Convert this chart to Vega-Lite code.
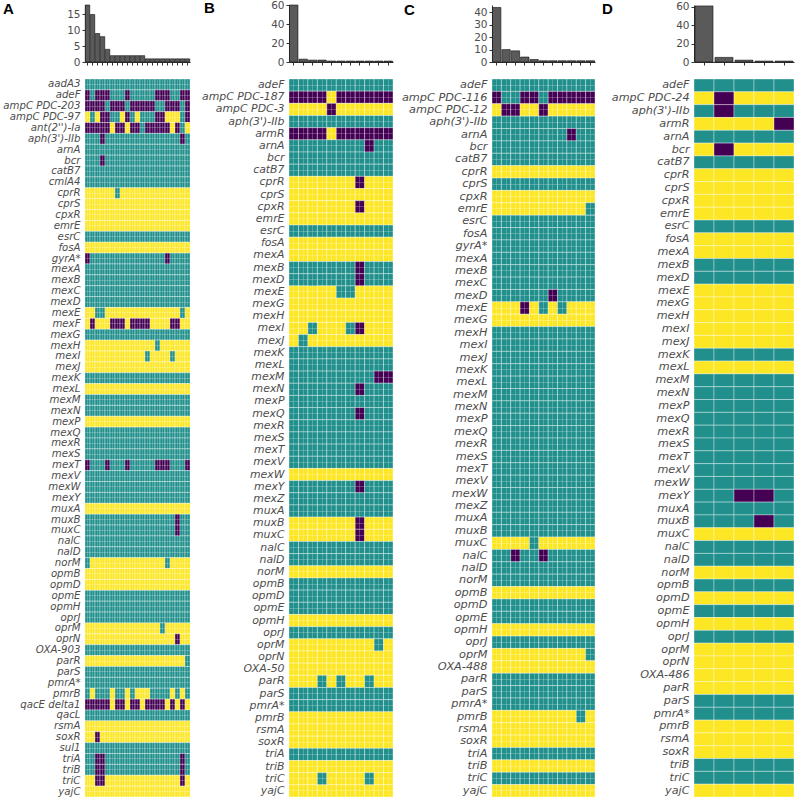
{
"$schema": "https://vega.github.io/schema/vega-lite/v6.json",
"padding": {"left": 2, "top": 0, "right": 0, "bottom": 0},
"background": "white",
"config": {"view": {"stroke": null}, "font": "DejaVu Sans", "axis": {"labelColor": "#4d4d4d", "labelFont": "DejaVu Sans", "domainColor": "#333333", "tickColor": "#333333", "grid": false, "title": null}},
"datasets": {
"bars": [
{"p":"A","c":1,"n":18},{"p":"A","c":2,"n":15},{"p":"A","c":3,"n":9},{"p":"A","c":4,"n":8},{"p":"A","c":5,"n":4},{"p":"A","c":6,"n":2},{"p":"A","c":7,"n":2},{"p":"A","c":8,"n":2},{"p":"A","c":9,"n":2},{"p":"A","c":10,"n":2},{"p":"A","c":11,"n":2},{"p":"A","c":12,"n":2},{"p":"A","c":13,"n":1},{"p":"A","c":14,"n":1},{"p":"A","c":15,"n":1},{"p":"A","c":16,"n":1},{"p":"A","c":17,"n":1},{"p":"A","c":18,"n":1},{"p":"A","c":19,"n":1},{"p":"A","c":20,"n":1},{"p":"A","c":21,"n":1},
{"p":"B","c":1,"n":60},{"p":"B","c":2,"n":3},{"p":"B","c":3,"n":2},{"p":"B","c":4,"n":2},{"p":"B","c":5,"n":1},{"p":"B","c":6,"n":1},{"p":"B","c":7,"n":1},{"p":"B","c":8,"n":1},{"p":"B","c":9,"n":1},{"p":"B","c":10,"n":1},{"p":"B","c":11,"n":1},
{"p":"C","c":1,"n":44},{"p":"C","c":2,"n":10},{"p":"C","c":3,"n":9},{"p":"C","c":4,"n":4},{"p":"C","c":5,"n":2},{"p":"C","c":6,"n":1},{"p":"C","c":7,"n":1},{"p":"C","c":8,"n":1},{"p":"C","c":9,"n":1},{"p":"C","c":10,"n":1},{"p":"C","c":11,"n":1},
{"p":"D","c":1,"n":61},{"p":"D","c":2,"n":5},{"p":"D","c":3,"n":2},{"p":"D","c":4,"n":1},{"p":"D","c":5,"n":1}
],
"heat": [
{"p":"A","g":"aadA3","v":[1,1,1,1,1,1,1,1,1,1,1,1,1,1,1,1,1,1,1,1,1]},
{"p":"A","g":"adeF","v":[0,1,0,0,0,1,1,1,0,1,1,1,1,1,0,0,0,1,1,0,0]},
{"p":"A","g":"ampC PDC-203","v":[0,0,0,0,1,0,0,0,1,0,0,0,0,0,1,1,0,0,0,1,0]},
{"p":"A","g":"ampC PDC-97","v":[2,1,2,0,0,1,1,2,0,1,2,1,1,1,0,0,2,2,2,1,0]},
{"p":"A","g":"ant(2'')-Ia","v":[0,0,0,0,0,2,0,0,2,0,0,1,0,0,0,0,0,2,0,1,2]},
{"p":"A","g":"aph(3')-IIb","v":[1,1,1,0,1,1,1,1,1,1,1,1,1,1,1,1,1,1,1,0,1]},
{"p":"A","g":"arnA","v":[1,1,1,1,1,1,1,1,1,1,1,1,1,1,1,1,1,1,1,1,1]},
{"p":"A","g":"bcr","v":[1,1,1,0,1,1,1,1,1,1,1,1,1,1,1,1,1,1,1,1,1]},
{"p":"A","g":"catB7","v":[1,1,1,1,1,1,1,1,1,1,1,1,1,1,1,1,1,1,1,1,1]},
{"p":"A","g":"cmlA4","v":[1,1,1,1,1,1,1,1,1,1,1,1,1,1,1,1,1,1,1,1,1]},
{"p":"A","g":"cprR","v":[2,2,2,2,2,2,1,2,2,2,2,2,2,2,2,2,2,2,2,2,2]},
{"p":"A","g":"cprS","v":[2,2,2,2,2,2,2,2,2,2,2,2,2,2,2,2,2,2,2,2,2]},
{"p":"A","g":"cpxR","v":[2,2,2,2,2,2,2,2,2,2,2,2,2,2,2,2,2,2,2,2,2]},
{"p":"A","g":"emrE","v":[2,2,2,2,2,2,2,2,2,2,2,2,2,2,2,2,2,2,2,2,2]},
{"p":"A","g":"esrC","v":[1,1,1,1,1,1,1,1,1,1,1,1,1,1,1,1,1,1,1,1,1]},
{"p":"A","g":"fosA","v":[2,2,2,2,2,2,2,2,2,2,2,2,2,2,2,2,2,2,2,2,2]},
{"p":"A","g":"gyrA*","v":[0,1,1,1,1,1,1,1,1,1,1,1,1,1,1,1,0,1,1,1,1]},
{"p":"A","g":"mexA","v":[1,1,1,1,1,1,1,1,1,1,1,1,1,1,1,1,1,1,1,1,1]},
{"p":"A","g":"mexB","v":[1,1,1,1,1,1,1,1,1,1,1,1,1,1,1,1,1,1,1,1,1]},
{"p":"A","g":"mexC","v":[1,1,1,1,1,1,1,1,1,1,1,1,1,1,1,1,1,1,1,1,1]},
{"p":"A","g":"mexD","v":[1,1,1,1,1,1,1,1,1,1,1,1,1,1,1,1,1,1,1,1,1]},
{"p":"A","g":"mexE","v":[2,2,1,1,2,2,2,2,2,2,2,2,2,2,2,2,2,2,2,1,2]},
{"p":"A","g":"mexF","v":[2,0,2,2,2,0,0,0,2,0,0,0,0,2,2,2,2,0,0,2,2]},
{"p":"A","g":"mexG","v":[1,1,1,1,1,1,1,1,1,1,1,1,1,1,1,1,1,1,1,1,1]},
{"p":"A","g":"mexH","v":[2,2,2,2,2,2,2,2,2,2,2,2,2,2,1,2,2,2,2,2,2]},
{"p":"A","g":"mexI","v":[2,2,2,2,2,2,2,2,2,2,2,2,1,2,2,2,2,1,2,2,2]},
{"p":"A","g":"mexJ","v":[2,2,2,2,2,2,2,2,2,2,2,2,2,2,2,2,2,2,2,2,2]},
{"p":"A","g":"mexK","v":[1,1,1,1,1,1,1,1,1,1,1,1,1,1,1,1,1,1,1,1,1]},
{"p":"A","g":"mexL","v":[2,2,2,2,2,2,2,2,2,2,2,2,2,2,2,2,2,2,2,2,2]},
{"p":"A","g":"mexM","v":[1,1,1,1,1,1,1,1,1,1,1,1,1,1,1,1,1,1,1,1,1]},
{"p":"A","g":"mexN","v":[1,1,1,1,1,1,1,1,1,1,1,1,1,1,1,1,1,1,1,1,1]},
{"p":"A","g":"mexP","v":[2,2,2,2,2,2,2,2,2,2,2,2,2,2,2,2,2,2,2,2,2]},
{"p":"A","g":"mexQ","v":[1,1,1,1,1,1,1,1,1,1,1,1,1,1,1,1,1,1,1,1,1]},
{"p":"A","g":"mexR","v":[1,1,1,1,1,1,1,1,1,1,1,1,1,1,1,1,1,1,1,1,1]},
{"p":"A","g":"mexS","v":[1,1,1,1,1,1,1,1,1,1,1,1,1,1,1,1,1,1,1,1,1]},
{"p":"A","g":"mexT","v":[0,1,1,1,0,1,1,1,0,1,1,1,1,1,0,0,0,1,1,1,0]},
{"p":"A","g":"mexV","v":[1,1,1,1,1,1,1,1,1,1,1,1,1,1,1,1,1,1,1,1,1]},
{"p":"A","g":"mexW","v":[1,1,1,1,1,1,1,1,1,1,1,1,1,1,1,1,1,1,1,1,1]},
{"p":"A","g":"mexY","v":[1,1,1,1,1,1,1,1,1,1,1,1,1,1,1,1,1,1,1,1,1]},
{"p":"A","g":"muxA","v":[2,2,2,2,2,2,2,2,2,2,2,2,2,2,2,2,2,2,2,2,2]},
{"p":"A","g":"muxB","v":[1,1,1,1,1,1,1,1,1,1,1,1,1,1,1,1,1,1,0,1,1]},
{"p":"A","g":"muxC","v":[1,1,1,1,1,1,1,1,1,1,1,1,1,1,1,1,1,1,0,1,1]},
{"p":"A","g":"nalC","v":[1,1,1,1,1,1,1,1,1,1,1,1,1,1,1,1,1,1,1,1,1]},
{"p":"A","g":"nalD","v":[1,1,1,1,1,1,1,1,1,1,1,1,1,1,1,1,1,1,1,1,1]},
{"p":"A","g":"norM","v":[1,2,2,2,2,2,2,2,2,2,2,2,2,2,2,2,1,2,2,2,2]},
{"p":"A","g":"opmB","v":[2,2,2,2,2,2,2,2,2,2,2,2,2,2,2,2,2,2,2,2,2]},
{"p":"A","g":"opmD","v":[2,2,2,2,2,2,2,2,2,2,2,2,2,2,2,2,2,2,2,2,2]},
{"p":"A","g":"opmE","v":[1,1,1,1,1,1,1,1,1,1,1,1,1,1,1,1,1,1,1,1,1]},
{"p":"A","g":"opmH","v":[1,1,1,1,1,1,1,1,1,1,1,1,1,1,1,1,1,1,1,1,1]},
{"p":"A","g":"oprJ","v":[1,1,1,1,1,1,1,1,1,1,1,1,1,1,1,1,1,1,1,1,1]},
{"p":"A","g":"oprM","v":[2,2,2,2,2,2,2,2,2,2,2,2,2,2,2,1,2,2,2,2,2]},
{"p":"A","g":"oprN","v":[2,2,2,2,2,2,2,2,2,2,2,2,2,2,2,2,2,2,0,2,2]},
{"p":"A","g":"OXA-903","v":[1,1,1,1,1,1,1,1,1,1,1,1,1,1,1,1,1,1,1,1,1]},
{"p":"A","g":"parR","v":[2,2,2,2,2,2,2,2,2,2,2,2,2,2,2,2,2,2,2,2,1]},
{"p":"A","g":"parS","v":[1,1,1,1,1,1,1,1,1,1,1,1,1,1,1,1,1,1,1,1,1]},
{"p":"A","g":"pmrA*","v":[1,1,1,1,1,1,1,1,1,1,1,1,1,1,1,1,1,1,1,1,1]},
{"p":"A","g":"pmrB","v":[1,2,1,1,1,2,1,1,2,1,2,2,2,1,1,1,1,2,1,2,1]},
{"p":"A","g":"qacE delta1","v":[0,0,0,0,0,2,0,0,2,0,0,2,0,0,0,0,2,0,2,0,2]},
{"p":"A","g":"qacL","v":[1,1,1,1,1,1,1,1,1,1,1,1,1,1,1,1,1,1,1,1,1]},
{"p":"A","g":"rsmA","v":[2,2,2,2,2,2,2,2,2,2,2,2,2,2,2,2,2,2,2,2,2]},
{"p":"A","g":"soxR","v":[2,2,0,2,2,2,2,2,2,2,2,2,2,2,2,2,2,2,2,2,2]},
{"p":"A","g":"sul1","v":[1,1,1,1,1,1,1,1,1,1,1,1,1,1,1,1,1,1,1,1,1]},
{"p":"A","g":"triA","v":[1,1,0,0,1,1,1,1,1,1,1,1,1,1,1,1,1,1,1,0,1]},
{"p":"A","g":"triB","v":[1,1,0,0,1,1,1,1,1,1,1,1,1,1,1,1,1,1,1,0,1]},
{"p":"A","g":"triC","v":[2,2,0,0,2,2,2,2,2,2,2,2,2,2,2,2,2,2,2,0,2]},
{"p":"A","g":"yajC","v":[2,2,2,2,2,2,2,2,2,2,2,2,2,2,2,2,2,2,2,2,2]},
{"p":"B","g":"adeF","v":[1,1,1,1,1,1,1,1,1,1,1]},
{"p":"B","g":"ampC PDC-187","v":[0,0,0,0,2,0,0,0,0,0,0]},
{"p":"B","g":"ampC PDC-3","v":[2,2,2,2,0,2,2,2,2,2,2]},
{"p":"B","g":"aph(3')-IIb","v":[1,1,1,1,1,1,1,1,1,1,1]},
{"p":"B","g":"armR","v":[0,0,0,0,2,0,0,0,0,0,0]},
{"p":"B","g":"arnA","v":[1,1,1,1,1,1,1,1,0,1,1]},
{"p":"B","g":"bcr","v":[1,1,1,1,1,1,1,1,1,1,1]},
{"p":"B","g":"catB7","v":[1,1,1,1,1,1,1,1,1,1,1]},
{"p":"B","g":"cprR","v":[2,2,2,2,2,2,2,0,2,2,2]},
{"p":"B","g":"cprS","v":[2,2,2,2,2,2,2,2,2,2,2]},
{"p":"B","g":"cpxR","v":[2,2,2,2,2,2,2,0,2,2,2]},
{"p":"B","g":"emrE","v":[2,2,2,2,2,2,2,2,2,2,2]},
{"p":"B","g":"esrC","v":[1,1,1,1,1,1,1,1,1,1,1]},
{"p":"B","g":"fosA","v":[2,2,2,2,2,2,2,2,2,2,2]},
{"p":"B","g":"mexA","v":[2,2,2,2,2,2,2,2,2,2,2]},
{"p":"B","g":"mexB","v":[1,1,1,1,1,1,1,0,1,1,1]},
{"p":"B","g":"mexD","v":[1,1,1,1,1,1,1,0,1,1,1]},
{"p":"B","g":"mexE","v":[2,2,2,2,2,1,1,2,2,2,2]},
{"p":"B","g":"mexG","v":[2,2,2,2,2,2,2,2,2,2,2]},
{"p":"B","g":"mexH","v":[2,2,2,2,2,2,2,2,2,2,2]},
{"p":"B","g":"mexI","v":[2,2,1,2,2,2,1,0,2,2,2]},
{"p":"B","g":"mexJ","v":[2,1,2,2,2,2,2,2,2,2,2]},
{"p":"B","g":"mexK","v":[1,1,1,1,1,1,1,1,1,1,1]},
{"p":"B","g":"mexL","v":[1,1,1,1,1,1,1,1,1,1,1]},
{"p":"B","g":"mexM","v":[1,1,1,1,1,1,1,1,1,0,0]},
{"p":"B","g":"mexN","v":[1,1,1,1,1,1,1,0,1,1,1]},
{"p":"B","g":"mexP","v":[1,1,1,1,1,1,1,1,1,1,1]},
{"p":"B","g":"mexQ","v":[1,1,1,1,1,1,1,0,1,1,1]},
{"p":"B","g":"mexR","v":[1,1,1,1,1,1,1,1,1,1,1]},
{"p":"B","g":"mexS","v":[1,1,1,1,1,1,1,1,1,1,1]},
{"p":"B","g":"mexT","v":[1,1,1,1,1,1,1,1,1,1,1]},
{"p":"B","g":"mexV","v":[1,1,1,1,1,1,1,1,1,1,1]},
{"p":"B","g":"mexW","v":[2,2,2,2,2,2,2,2,2,2,2]},
{"p":"B","g":"mexY","v":[1,1,1,1,1,1,1,0,1,1,1]},
{"p":"B","g":"mexZ","v":[1,1,1,1,1,1,1,1,1,1,1]},
{"p":"B","g":"muxA","v":[1,1,1,1,1,1,1,1,1,1,1]},
{"p":"B","g":"muxB","v":[2,2,2,2,2,2,2,0,2,2,2]},
{"p":"B","g":"muxC","v":[2,2,2,2,2,2,2,0,2,2,2]},
{"p":"B","g":"nalC","v":[1,1,1,1,1,1,1,1,1,1,1]},
{"p":"B","g":"nalD","v":[1,1,1,1,1,1,1,1,1,1,1]},
{"p":"B","g":"norM","v":[2,2,2,2,2,2,2,2,2,2,2]},
{"p":"B","g":"opmB","v":[1,1,1,1,1,1,1,1,1,1,1]},
{"p":"B","g":"opmD","v":[1,1,1,1,1,1,1,1,1,1,1]},
{"p":"B","g":"opmE","v":[1,1,1,1,1,1,1,1,1,1,1]},
{"p":"B","g":"opmH","v":[2,2,2,2,2,2,2,2,2,2,2]},
{"p":"B","g":"oprJ","v":[1,1,1,1,1,1,1,1,1,1,1]},
{"p":"B","g":"oprM","v":[2,2,2,2,2,2,2,2,2,1,2]},
{"p":"B","g":"oprN","v":[2,2,2,2,2,2,2,2,2,2,2]},
{"p":"B","g":"OXA-50","v":[2,2,2,2,2,2,2,2,2,2,2]},
{"p":"B","g":"parR","v":[2,2,2,1,2,1,2,2,1,2,2]},
{"p":"B","g":"parS","v":[1,1,1,1,1,1,1,1,1,1,1]},
{"p":"B","g":"pmrA*","v":[1,1,1,1,1,1,1,1,1,1,1]},
{"p":"B","g":"pmrB","v":[2,2,2,2,2,2,2,2,2,2,2]},
{"p":"B","g":"rsmA","v":[2,2,2,2,2,2,2,2,2,2,2]},
{"p":"B","g":"soxR","v":[2,2,2,2,2,2,2,2,2,2,2]},
{"p":"B","g":"triA","v":[1,1,1,1,1,1,1,1,1,1,1]},
{"p":"B","g":"triB","v":[2,2,2,2,2,2,2,2,2,2,2]},
{"p":"B","g":"triC","v":[2,2,2,1,2,2,2,2,1,2,2]},
{"p":"B","g":"yajC","v":[2,2,2,2,2,2,2,2,2,2,2]},
{"p":"C","g":"adeF","v":[1,1,1,1,1,1,1,1,1,1,1]},
{"p":"C","g":"ampC PDC-116","v":[0,1,1,0,0,1,0,0,0,0,0]},
{"p":"C","g":"ampC PDC-12","v":[2,0,0,2,2,0,2,2,2,2,2]},
{"p":"C","g":"aph(3')-IIb","v":[1,1,1,1,1,1,1,1,1,1,1]},
{"p":"C","g":"arnA","v":[1,1,1,1,1,1,1,1,0,1,1]},
{"p":"C","g":"bcr","v":[1,1,1,1,1,1,1,1,1,1,1]},
{"p":"C","g":"catB7","v":[1,1,1,1,1,1,1,1,1,1,1]},
{"p":"C","g":"cprR","v":[2,2,2,2,2,2,2,2,2,2,2]},
{"p":"C","g":"cprS","v":[1,1,1,1,1,1,1,1,1,1,1]},
{"p":"C","g":"cpxR","v":[2,2,2,2,2,2,2,2,2,2,2]},
{"p":"C","g":"emrE","v":[2,2,2,2,2,2,2,2,2,2,1]},
{"p":"C","g":"esrC","v":[1,1,1,1,1,1,1,1,1,1,1]},
{"p":"C","g":"fosA","v":[1,1,1,1,1,1,1,1,1,1,1]},
{"p":"C","g":"gyrA*","v":[1,1,1,1,1,1,1,1,1,1,1]},
{"p":"C","g":"mexA","v":[1,1,1,1,1,1,1,1,1,1,1]},
{"p":"C","g":"mexB","v":[1,1,1,1,1,1,1,1,1,1,1]},
{"p":"C","g":"mexC","v":[1,1,1,1,1,1,1,1,1,1,1]},
{"p":"C","g":"mexD","v":[1,1,1,1,1,1,0,1,1,1,1]},
{"p":"C","g":"mexE","v":[2,2,2,0,2,1,2,1,2,2,2]},
{"p":"C","g":"mexG","v":[2,2,2,2,2,2,2,2,2,2,2]},
{"p":"C","g":"mexH","v":[1,1,1,1,1,1,1,1,1,1,1]},
{"p":"C","g":"mexI","v":[1,1,1,1,1,1,1,1,1,1,1]},
{"p":"C","g":"mexJ","v":[1,1,1,1,1,1,1,1,1,1,1]},
{"p":"C","g":"mexK","v":[1,1,1,1,1,1,1,1,1,1,1]},
{"p":"C","g":"mexL","v":[1,1,1,1,1,1,1,1,1,1,1]},
{"p":"C","g":"mexM","v":[1,1,1,1,1,1,1,1,1,1,1]},
{"p":"C","g":"mexN","v":[1,1,1,1,1,1,1,1,1,1,1]},
{"p":"C","g":"mexP","v":[1,1,1,1,1,1,1,1,1,1,1]},
{"p":"C","g":"mexQ","v":[1,1,1,1,1,1,1,1,1,1,1]},
{"p":"C","g":"mexR","v":[1,1,1,1,1,1,1,1,1,1,1]},
{"p":"C","g":"mexS","v":[1,1,1,1,1,1,1,1,1,1,1]},
{"p":"C","g":"mexT","v":[1,1,1,1,1,1,1,1,1,1,1]},
{"p":"C","g":"mexV","v":[1,1,1,1,1,1,1,1,1,1,1]},
{"p":"C","g":"mexW","v":[1,1,1,1,1,1,1,1,1,1,1]},
{"p":"C","g":"mexZ","v":[1,1,1,1,1,1,1,1,1,1,1]},
{"p":"C","g":"muxA","v":[1,1,1,1,1,1,1,1,1,1,1]},
{"p":"C","g":"muxB","v":[1,1,1,1,1,1,1,1,1,1,1]},
{"p":"C","g":"muxC","v":[2,2,2,2,1,2,2,2,2,2,2]},
{"p":"C","g":"nalC","v":[1,1,0,1,1,0,1,1,1,1,1]},
{"p":"C","g":"nalD","v":[1,1,1,1,1,1,1,1,1,1,1]},
{"p":"C","g":"norM","v":[1,1,1,1,1,1,1,1,1,1,1]},
{"p":"C","g":"opmB","v":[2,2,2,2,2,2,2,2,2,2,2]},
{"p":"C","g":"opmD","v":[1,1,1,1,1,1,1,1,1,1,1]},
{"p":"C","g":"opmE","v":[1,1,1,1,1,1,1,1,1,1,1]},
{"p":"C","g":"opmH","v":[2,2,2,2,2,2,2,2,2,2,2]},
{"p":"C","g":"oprJ","v":[1,1,1,1,1,1,1,1,1,1,1]},
{"p":"C","g":"oprM","v":[2,2,2,2,2,2,2,2,2,2,1]},
{"p":"C","g":"OXA-488","v":[2,2,2,2,2,2,2,2,2,2,2]},
{"p":"C","g":"parR","v":[1,1,1,1,1,1,1,1,1,1,1]},
{"p":"C","g":"parS","v":[1,1,1,1,1,1,1,1,1,1,1]},
{"p":"C","g":"pmrA*","v":[1,1,1,1,1,1,1,1,1,1,1]},
{"p":"C","g":"pmrB","v":[2,2,2,2,2,2,2,2,2,1,2]},
{"p":"C","g":"rsmA","v":[2,2,2,2,2,2,2,2,2,2,2]},
{"p":"C","g":"soxR","v":[2,2,2,2,2,2,2,2,2,2,2]},
{"p":"C","g":"triA","v":[1,1,1,1,1,1,1,1,1,1,1]},
{"p":"C","g":"triB","v":[2,2,2,2,2,2,2,2,2,2,2]},
{"p":"C","g":"triC","v":[1,1,1,1,1,1,1,1,1,1,1]},
{"p":"C","g":"yajC","v":[2,2,2,2,2,2,2,2,2,2,2]},
{"p":"D","g":"adeF","v":[1,1,1,1,1]},
{"p":"D","g":"ampC PDC-24","v":[2,0,2,2,2]},
{"p":"D","g":"aph(3')-IIb","v":[1,0,1,1,1]},
{"p":"D","g":"armR","v":[2,2,2,2,0]},
{"p":"D","g":"arnA","v":[1,1,1,1,1]},
{"p":"D","g":"bcr","v":[2,0,2,2,2]},
{"p":"D","g":"catB7","v":[1,1,1,1,1]},
{"p":"D","g":"cprR","v":[2,2,2,2,2]},
{"p":"D","g":"cprS","v":[2,2,2,2,2]},
{"p":"D","g":"cpxR","v":[2,2,2,2,2]},
{"p":"D","g":"emrE","v":[2,2,2,2,2]},
{"p":"D","g":"esrC","v":[1,1,1,1,1]},
{"p":"D","g":"fosA","v":[2,2,2,2,2]},
{"p":"D","g":"mexA","v":[2,2,2,2,2]},
{"p":"D","g":"mexB","v":[1,1,1,1,1]},
{"p":"D","g":"mexD","v":[1,1,1,1,1]},
{"p":"D","g":"mexE","v":[2,2,2,2,2]},
{"p":"D","g":"mexG","v":[2,2,2,2,2]},
{"p":"D","g":"mexH","v":[2,2,2,2,2]},
{"p":"D","g":"mexI","v":[2,2,2,2,2]},
{"p":"D","g":"mexJ","v":[2,2,2,2,2]},
{"p":"D","g":"mexK","v":[1,1,1,1,1]},
{"p":"D","g":"mexL","v":[2,2,2,2,2]},
{"p":"D","g":"mexM","v":[1,1,1,1,1]},
{"p":"D","g":"mexN","v":[1,1,1,1,1]},
{"p":"D","g":"mexP","v":[1,1,1,1,1]},
{"p":"D","g":"mexQ","v":[1,1,1,1,1]},
{"p":"D","g":"mexR","v":[1,1,1,1,1]},
{"p":"D","g":"mexS","v":[1,1,1,1,1]},
{"p":"D","g":"mexT","v":[1,1,1,1,1]},
{"p":"D","g":"mexV","v":[1,1,1,1,1]},
{"p":"D","g":"mexW","v":[1,1,1,1,1]},
{"p":"D","g":"mexY","v":[1,1,0,0,1]},
{"p":"D","g":"muxA","v":[1,1,1,1,1]},
{"p":"D","g":"muxB","v":[1,1,1,0,1]},
{"p":"D","g":"muxC","v":[2,2,2,2,2]},
{"p":"D","g":"nalC","v":[1,1,1,1,1]},
{"p":"D","g":"nalD","v":[1,1,1,1,1]},
{"p":"D","g":"norM","v":[2,2,2,2,2]},
{"p":"D","g":"opmB","v":[1,1,1,1,1]},
{"p":"D","g":"opmD","v":[2,2,2,2,2]},
{"p":"D","g":"opmE","v":[1,1,1,1,1]},
{"p":"D","g":"opmH","v":[2,2,2,2,2]},
{"p":"D","g":"oprJ","v":[1,1,1,1,1]},
{"p":"D","g":"oprM","v":[2,2,2,2,2]},
{"p":"D","g":"oprN","v":[2,2,2,2,2]},
{"p":"D","g":"OXA-486","v":[2,2,2,2,2]},
{"p":"D","g":"parR","v":[2,2,2,2,2]},
{"p":"D","g":"parS","v":[1,1,1,1,1]},
{"p":"D","g":"pmrA*","v":[1,1,1,1,1]},
{"p":"D","g":"pmrB","v":[2,2,2,2,2]},
{"p":"D","g":"rsmA","v":[2,2,2,2,2]},
{"p":"D","g":"soxR","v":[2,2,2,2,2]},
{"p":"D","g":"triB","v":[1,1,1,1,1]},
{"p":"D","g":"triC","v":[1,1,1,1,1]},
{"p":"D","g":"yajC","v":[2,2,2,2,2]}
]
},
"columns": 4,
"bounds": "flush",
"align": "each",
"spacing": {"row": 17, "column": 99},
"concat": [
{"width": 105, "height": 57, "data": {"name": "bars"}, "transform": [{"filter": "datum.p === 'A'"}],
 "title": {"text": "A", "anchor": "start", "frame": "group", "dx": -82, "offset": -12, "baseline": "top", "fontSize": 15, "fontWeight": "bold", "font": "Liberation Sans", "color": "#000000"},
 "mark": {"type": "bar", "fill": "#5a5a5a", "stroke": "#111111", "strokeWidth": 0.6, "width": {"band": 0.9}},
 "encoding": {"x": {"field": "c", "type": "ordinal", "scale": {"paddingInner": 0, "paddingOuter": 0}, "axis": {"labels": false, "tickSize": 3, "bandPosition": 0.5}},
  "y": {"field": "n", "type": "quantitative", "scale": {"domain": [0, 18], "nice": false}, "axis": {"values": [0, 5, 10, 15], "tickSize": 3, "labelFontSize": 10.5, "labelPadding": 2}}}},
{"width": 104, "height": 57, "data": {"name": "bars"}, "transform": [{"filter": "datum.p === 'B'"}],
 "title": {"text": "B", "anchor": "start", "frame": "group", "dx": -85, "offset": -16, "baseline": "top", "fontSize": 15, "fontWeight": "bold", "font": "Liberation Sans", "color": "#000000"},
 "mark": {"type": "bar", "fill": "#5a5a5a", "stroke": "#111111", "strokeWidth": 0.6, "width": {"band": 0.9}},
 "encoding": {"x": {"field": "c", "type": "ordinal", "scale": {"paddingInner": 0, "paddingOuter": 0}, "axis": {"labels": false, "tickSize": 3, "bandPosition": 0.5}},
  "y": {"field": "n", "type": "quantitative", "scale": {"domain": [0, 60], "nice": false}, "axis": {"values": [0, 20, 40, 60], "tickSize": 3, "labelFontSize": 10.5, "labelPadding": 2}}}},
{"width": 103, "height": 57, "data": {"name": "bars"}, "transform": [{"filter": "datum.p === 'C'"}],
 "title": {"text": "C", "anchor": "start", "frame": "group", "dx": -88, "offset": -13, "baseline": "top", "fontSize": 15, "fontWeight": "bold", "font": "Liberation Sans", "color": "#000000"},
 "mark": {"type": "bar", "fill": "#5a5a5a", "stroke": "#111111", "strokeWidth": 0.6, "width": {"band": 0.9}},
 "encoding": {"x": {"field": "c", "type": "ordinal", "scale": {"paddingInner": 0, "paddingOuter": 0}, "axis": {"labels": false, "tickSize": 3, "bandPosition": 0.5}},
  "y": {"field": "n", "type": "quantitative", "scale": {"domain": [0, 46], "nice": false}, "axis": {"values": [0, 10, 20, 30, 40], "tickSize": 3, "labelFontSize": 10.5, "labelPadding": 2}}}},
{"width": 100, "height": 57, "data": {"name": "bars"}, "transform": [{"filter": "datum.p === 'D'"}],
 "title": {"text": "D", "anchor": "start", "frame": "group", "dx": -92, "offset": -15.5, "baseline": "top", "fontSize": 15, "fontWeight": "bold", "font": "Liberation Sans", "color": "#000000"},
 "mark": {"type": "bar", "fill": "#5a5a5a", "stroke": "#111111", "strokeWidth": 0.6, "width": {"band": 0.9}},
 "encoding": {"x": {"field": "c", "type": "ordinal", "scale": {"paddingInner": 0, "paddingOuter": 0}, "axis": {"labels": false, "tickSize": 3, "bandPosition": 0.5}},
  "y": {"field": "n", "type": "quantitative", "scale": {"domain": [0, 62], "nice": false}, "axis": {"values": [0, 20, 40, 60], "tickSize": 3, "labelFontSize": 10.5, "labelPadding": 2}}}},
{"width": 105, "height": 718, "data": {"name": "heat"}, "transform": [{"filter": "datum.p === 'A'"}, {"flatten": ["v"], "as": ["val"]}, {"window": [{"op": "row_number", "as": "col"}], "groupby": ["g"]}],
 "mark": {"type": "rect", "stroke": "#ffffff", "strokeWidth": 0.5, "strokeOpacity": 0.7},
 "encoding": {"x": {"field": "col", "type": "ordinal", "scale": {"paddingInner": 0, "paddingOuter": 0}, "axis": {"labels": false, "ticks": false, "domain": false, "grid": true, "gridColor": "#ffffff", "gridOpacity": 0.45, "gridWidth": 0.5, "zindex": 1, "bandPosition": 0.5}},
  "y": {"field": "g", "type": "nominal", "sort": null, "scale": {"paddingInner": 0, "paddingOuter": 0}, "axis": {"ticks": false, "tickSize": 0, "domain": false, "labelFontStyle": "italic", "labelFontSize": 10.2, "labelPadding": 5, "labelLimit": 200, "grid": true, "gridColor": "#ffffff", "gridOpacity": 0.45, "gridWidth": 0.5, "zindex": 1, "bandPosition": 0.5}},
  "color": {"field": "val", "type": "nominal", "scale": {"domain": [0, 1, 2], "range": ["#440154", "#21908C", "#FDE725"]}, "legend": null}}},
{"width": 104, "height": 718, "data": {"name": "heat"}, "transform": [{"filter": "datum.p === 'B'"}, {"flatten": ["v"], "as": ["val"]}, {"window": [{"op": "row_number", "as": "col"}], "groupby": ["g"]}],
 "mark": {"type": "rect", "stroke": "#ffffff", "strokeWidth": 0.5, "strokeOpacity": 0.7},
 "encoding": {"x": {"field": "col", "type": "ordinal", "scale": {"paddingInner": 0, "paddingOuter": 0}, "axis": {"labels": false, "ticks": false, "domain": false, "grid": true, "gridColor": "#ffffff", "gridOpacity": 0.45, "gridWidth": 0.5, "zindex": 1, "bandPosition": 0.5}},
  "y": {"field": "g", "type": "nominal", "sort": null, "scale": {"paddingInner": 0, "paddingOuter": 0}, "axis": {"ticks": false, "tickSize": 0, "domain": false, "labelFontStyle": "italic", "labelFontSize": 10.9, "labelPadding": 5, "labelLimit": 200, "grid": true, "gridColor": "#ffffff", "gridOpacity": 0.45, "gridWidth": 0.5, "zindex": 1, "bandPosition": 0.5}},
  "color": {"field": "val", "type": "nominal", "scale": {"domain": [0, 1, 2], "range": ["#440154", "#21908C", "#FDE725"]}, "legend": null}}},
{"width": 103, "height": 718, "data": {"name": "heat"}, "transform": [{"filter": "datum.p === 'C'"}, {"flatten": ["v"], "as": ["val"]}, {"window": [{"op": "row_number", "as": "col"}], "groupby": ["g"]}],
 "mark": {"type": "rect", "stroke": "#ffffff", "strokeWidth": 0.5, "strokeOpacity": 0.7},
 "encoding": {"x": {"field": "col", "type": "ordinal", "scale": {"paddingInner": 0, "paddingOuter": 0}, "axis": {"labels": false, "ticks": false, "domain": false, "grid": true, "gridColor": "#ffffff", "gridOpacity": 0.45, "gridWidth": 0.5, "zindex": 1, "bandPosition": 0.5}},
  "y": {"field": "g", "type": "nominal", "sort": null, "scale": {"paddingInner": 0, "paddingOuter": 0}, "axis": {"ticks": false, "tickSize": 0, "domain": false, "labelFontStyle": "italic", "labelFontSize": 11.3, "labelPadding": 5, "labelLimit": 200, "grid": true, "gridColor": "#ffffff", "gridOpacity": 0.45, "gridWidth": 0.5, "zindex": 1, "bandPosition": 0.5}},
  "color": {"field": "val", "type": "nominal", "scale": {"domain": [0, 1, 2], "range": ["#440154", "#21908C", "#FDE725"]}, "legend": null}}},
{"width": 100, "height": 718, "data": {"name": "heat"}, "transform": [{"filter": "datum.p === 'D'"}, {"flatten": ["v"], "as": ["val"]}, {"window": [{"op": "row_number", "as": "col"}], "groupby": ["g"]}],
 "mark": {"type": "rect", "stroke": "#ffffff", "strokeWidth": 0.5, "strokeOpacity": 0.7},
 "encoding": {"x": {"field": "col", "type": "ordinal", "axis": null, "scale": {"paddingInner": 0, "paddingOuter": 0}},
  "y": {"field": "g", "type": "nominal", "sort": null, "scale": {"paddingInner": 0, "paddingOuter": 0}, "axis": {"ticks": false, "tickSize": 0, "domain": false, "labelFontStyle": "italic", "labelFontSize": 11.2, "labelPadding": 5, "labelLimit": 200}},
  "color": {"field": "val", "type": "nominal", "scale": {"domain": [0, 1, 2], "range": ["#440154", "#21908C", "#FDE725"]}, "legend": null}}}
]
}
